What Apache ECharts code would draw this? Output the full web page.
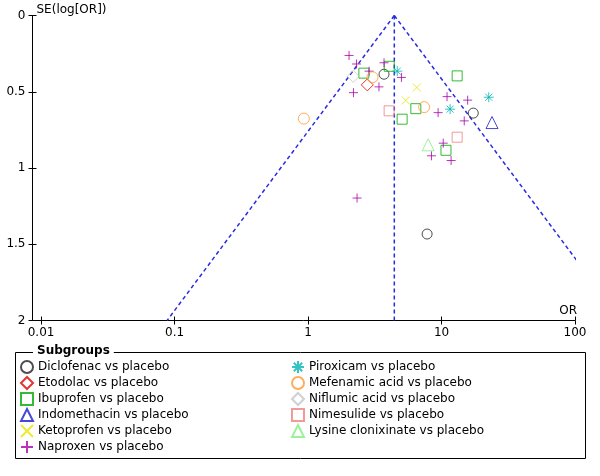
<!DOCTYPE html>
<html>
<head>
<meta charset="utf-8">
<script src="https://cdn.jsdelivr.net/npm/echarts@6/dist/echarts.min.js"></script>
<style>
html, body { margin: 0; padding: 0; background: #fff; }
#main { width: 600px; height: 476px; }
</style>
</head>
<body>
<div id="main"></div>
<script>
// funnel plot: OR on a log axis, SE(log[OR]) going down
const tickValues = [0.01, 0.1, 1, 10, 100];
const tickLabels = ['0.01', '0.1', '1', '10', '100'];

// pooled estimate and funnel limits
const pooledLine = [[4.43, 0], [4.43, 2]];
const funnelLeft = [[4.43, 0], [0.088, 2]];
const funnelRight = [[4.43, 0], [119, 1.68]];

// [OR, SE] for each study
const diclofenac = [[3.71, 0.385], [17.3, 0.640], [7.80, 1.433]];
const etodolac = [[2.78, 0.455]];
const ibuprofen = [[2.62, 0.378], [4.06, 0.333], [13.1, 0.396], [6.42, 0.611], [5.07, 0.680], [10.8, 0.884]];
const indomethacin = [[23.9, 0.702]];
const ketoprofen = [[6.53, 0.472], [5.40, 0.557]];
const naproxen = [
  [2.03, 0.262], [2.31, 0.318], [2.87, 0.365], [3.40, 0.468], [2.19, 0.506],
  [3.71, 0.310], [5.01, 0.406], [11.0, 0.532], [15.7, 0.555], [9.43, 0.637],
  [14.8, 0.691], [10.3, 0.837], [8.41, 0.920], [11.8, 0.951], [2.33, 1.197]
];
const piroxicam = [[4.66, 0.365], [22.6, 0.536], [11.6, 0.614]];
const mefenamic = [[3.04, 0.405], [7.41, 0.601], [0.93, 0.676]];
const niflumic = [[2.18, 0.399]];
const nimesulide = [[4.05, 0.625], [13.1, 0.798]];
const lysine = [[7.94, 0.848]];

const plus = 'path://M0,5L10,5M5,0L5,10';
const cross = 'path://M0,0L10,10M10,0L0,10';
const star = 'path://M0,5L10,5M5,0L5,10M1.5,1.5L8.5,8.5M8.5,1.5L1.5,8.5';

const groups = [
  { name: 'Diclofenac vs placebo', data: diclofenac, symbol: 'circle', size: 10, color: '#222222' },
  { name: 'Etodolac vs placebo', data: etodolac, symbol: 'diamond', size: 12, color: '#dd0000' },
  { name: 'Ibuprofen vs placebo', data: ibuprofen, symbol: 'rect', size: 10, color: '#00aa00' },
  { name: 'Indomethacin vs placebo', data: indomethacin, symbol: 'triangle', size: 12, color: '#1a1acc' },
  { name: 'Ketoprofen vs placebo', data: ketoprofen, symbol: cross, size: 8, color: '#e6e600' },
  { name: 'Naproxen vs placebo', data: naproxen, symbol: plus, size: 9, color: '#aa00aa' },
  { name: 'Piroxicam vs placebo', data: piroxicam, symbol: star, size: 10, color: '#00b4b4' },
  { name: 'Mefenamic acid vs placebo', data: mefenamic, symbol: 'circle', size: 11, color: '#ff9933' },
  { name: 'Niflumic acid vs placebo', data: niflumic, symbol: 'diamond', size: 12, color: '#c4c4c4' },
  { name: 'Nimesulide vs placebo', data: nimesulide, symbol: 'rect', size: 10, color: '#f08080' },
  { name: 'Lysine clonixinate vs placebo', data: lysine, symbol: 'triangle', size: 12, color: '#80f080' }
];

const toLog = arr => arr.map(p => [Math.log10(p[0]), p[1]]);
const font = 'DejaVu Sans';

let myChart = echarts.init(document.getElementById('main'));

let series = [];
// dashed guide lines
[pooledLine, funnelLeft, funnelRight].forEach(function (l) {
  series.push({
    type: 'line',
    data: toLog(l),
    symbol: 'none',
    silent: true,
    clip: false,
    z: 1,
    lineStyle: { color: '#2b2be0', width: 1.5, type: [4, 3] }
  });
});
groups.forEach(function (g) {
  series.push({
    type: 'scatter',
    name: g.name,
    data: toLog(g.data),
    symbol: g.symbol,
    symbolSize: g.size,
    z: 3,
    itemStyle: { color: 'transparent', borderColor: g.color, borderWidth: 1 }
  });
});

const logTicks = tickValues.map(Math.log10);

function legendCol(left, names) {
  return {
    orient: 'vertical',
    left: left,
    top: 360,
    padding: 0,
    itemWidth: 12,
    itemHeight: 12,
    itemGap: 2,
    selectedMode: false,
    textStyle: { color: '#000', fontSize: 12, fontFamily: font, lineHeight: 12 },
    data: names
  };
}

let option = {
  animation: false,
  textStyle: { fontFamily: font },
  grid: { left: 32.5, right: 25, top: 15.5, bottom: 155.5 },
  xAxis: [
    {
      type: 'value',
      min: -2.064,
      max: 2,
      name: 'OR',
      nameLocation: 'end',
      nameGap: 2,
      nameTextStyle: { color: '#000', fontSize: 12, fontFamily: font, align: 'right', verticalAlign: 'bottom', padding: [0, 0, 4, 0] },
      axisLine: { onZero: false, lineStyle: { color: '#000', width: 1 } },
      axisTick: { customValues: logTicks, length: 4, lineStyle: { color: '#000' } },
      axisLabel: {
        customValues: logTicks,
        margin: 6,
        color: '#000',
        fontSize: 12,
        fontFamily: font,
        formatter: v => tickLabels[Math.round(v) + 2]
      },
      splitLine: { show: false }
    },
    {
      type: 'value',
      min: -2.064,
      max: 2,
      position: 'bottom',
      axisLine: { show: false, onZero: false },
      axisTick: { customValues: logTicks, inside: true, length: 4, lineStyle: { color: '#000' } },
      axisLabel: { show: false },
      splitLine: { show: false }
    }
  ],
  yAxis: [
    {
      type: 'value',
      min: 0,
      max: 2,
      interval: 0.5,
      inverse: true,
      name: 'SE(log[OR])',
      nameLocation: 'start',
      nameGap: 0,
      nameTextStyle: { color: '#000', fontSize: 12, fontFamily: font, align: 'left', verticalAlign: 'bottom', padding: [0, 0, 0, 4] },
      axisLine: { onZero: false, lineStyle: { color: '#000', width: 1 } },
      axisTick: { length: 4, lineStyle: { color: '#000' } },
      axisLabel: { margin: 7, color: '#000', fontSize: 12, fontFamily: font },
      splitLine: { show: false }
    },
    {
      type: 'value',
      min: 0,
      max: 2,
      interval: 0.5,
      inverse: true,
      position: 'left',
      axisLine: { show: false, onZero: false },
      axisTick: { inside: true, length: 4, lineStyle: { color: '#000' } },
      axisLabel: { show: false },
      splitLine: { show: false }
    }
  ],
  legend: [
    legendCol(20, groups.slice(0, 6).map(g => g.name)),
    legendCol(291, groups.slice(6).map(g => g.name))
  ],
  graphic: [
    {
      type: 'rect',
      shape: { x: 15.5, y: 352.5, width: 570, height: 106 },
      style: { fill: 'none', stroke: '#000', lineWidth: 1 },
      silent: true
    },
    {
      type: 'text',
      left: 33,
      top: 345,
      style: {
        text: 'Subgroups',
        fill: '#000',
        font: 'bold 12px "DejaVu Sans"',
        backgroundColor: '#fff',
        padding: [0, 4]
      },
      silent: true
    }
  ],
  series: series
};

myChart.setOption(option);
</script>
</body>
</html>
